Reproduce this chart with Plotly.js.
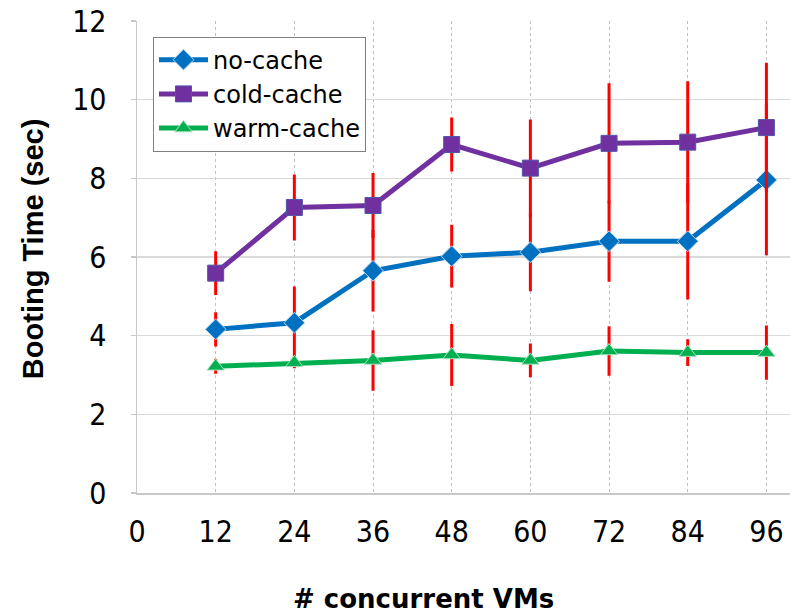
<!DOCTYPE html>
<html>
<head>
<meta charset="utf-8">
<script src="https://cdn.plot.ly/plotly-3.0.1.min.js"></script>
<style>
html,body{margin:0;padding:0;background:#fff;}
#chart{width:790px;height:614px;}
</style>
</head>
<body>
<div id="chart"></div>
<script>
// ---- data ----
var vms = [12, 24, 36, 48, 60, 72, 84, 96];
var xTicks = [0, 12, 24, 36, 48, 60, 72, 84, 96];
var yTicks = [0, 2, 4, 6, 8, 10, 12];

var noCache      = [4.16, 4.33, 5.65, 6.02, 6.12, 6.40, 6.40, 7.96];
var noCacheErr   = [0.40, 0.88, 1.00, 0.76, 0.95, 0.99, 1.44, 1.88];

var coldCache    = [5.59, 7.26, 7.31, 8.86, 8.26, 8.89, 8.92, 9.29];
var coldCacheErr = [0.52, 0.80, 0.79, 0.65, 1.20, 1.49, 1.51, 1.61];

var warmCache    = [3.22, 3.31, 3.37, 3.51, 3.37, 3.61, 3.57, 3.57];
var warmCacheErr = [0.15, 0.10, 0.73, 0.75, 0.39, 0.59, 0.30, 0.65];

var seriesNames = ['no-cache', 'cold-cache', 'warm-cache'];
var xTitle = '# concurrent VMs';
var yTitle = 'Booting Time (sec)';

function errBar(arr) {
  return {type: 'data', array: arr, visible: true, color: '#ff0000', thickness: 3, width: 1.5};
}

var traces = [
  {
    x: vms, y: noCache, name: seriesNames[0], type: 'scatter', mode: 'lines+markers',
    line: {color: '#0070C0', width: 5},
    marker: {symbol: 'diamond', size: 16, color: '#0070C0', line: {color: '#bdd7ee', width: 1}},
    error_y: errBar(noCacheErr)
  },
  {
    x: vms, y: coldCache, name: seriesNames[1], type: 'scatter', mode: 'lines+markers',
    line: {color: '#7030A0', width: 5},
    marker: {symbol: 'square', size: 16, color: '#7030A0', line: {color: '#4f55a8', width: 1}},
    error_y: errBar(coldCacheErr)
  },
  {
    x: vms, y: warmCache, name: seriesNames[2], type: 'scatter', mode: 'lines+markers',
    line: {color: '#00B050', width: 5},
    marker: {symbol: 'triangle-up', size: 15, color: '#00B050', line: {color: '#a9e0bd', width: 1}},
    error_y: errBar(warmCacheErr)
  }
];

var tickFont = {family: '"Liberation Sans Narrow", "DejaVu Sans Condensed", "Arial Narrow", sans-serif', size: 30, color: '#000'};

var layout = {
  width: 790, height: 614,
  margin: {l: 137, r: 0, t: 20.5, b: 120.5, pad: 0},
  paper_bgcolor: '#ffffff',
  plot_bgcolor: '#ffffff',
  font: {family: '"DejaVu Sans", sans-serif', color: '#000'},
  showlegend: true,
  legend: {
    x: 0.0245, y: 0.967, xanchor: 'left', yanchor: 'top',
    bgcolor: '#ffffff', bordercolor: '#808080', borderwidth: 1,
    font: {family: '"DejaVu Sans", sans-serif', size: 24, color: '#000'},
    itemwidth: 49, tracegroupgap: 0,
    entrywidth: 228, entrywidthmode: 'pixels'
  },
  xaxis: {
    range: [0, 99.6],
    tickmode: 'array', tickvals: xTicks, ticktext: xTicks.map(String),
    tickfont: tickFont,
    showgrid: true, gridcolor: '#bfbfbf', gridwidth: 1, griddash: 'dot',
    showline: true, linecolor: '#c8c8c8', linewidth: 1.5,
    zeroline: false, ticks: '', ticklabelstandoff: 11,
    fixedrange: true
  },
  yaxis: {
    range: [0, 12],
    tickmode: 'array', tickvals: yTicks, ticktext: yTicks.map(String),
    tickfont: tickFont,
    showgrid: true, gridcolor: '#d9d9d9', gridwidth: 1.5,
    showline: true, linecolor: '#c8c8c8', linewidth: 1.5,
    zeroline: false, ticks: 'outside', ticklen: 5, tickcolor: '#c8c8c8', tickwidth: 1.5,
    ticklabelstandoff: 18,
    fixedrange: true
  },
  annotations: [
    {
      text: '<b>' + xTitle + '</b>', xref: 'paper', yref: 'paper',
      x: 0.4387, y: -0.225, xanchor: 'center', yanchor: 'middle', showarrow: false,
      font: {family: '"DejaVu Sans", sans-serif', size: 26, color: '#000'}
    },
    {
      text: '<b>' + yTitle + '</b>', xref: 'paper', yref: 'paper',
      x: -0.159, y: 0.517, xanchor: 'center', yanchor: 'middle', showarrow: false, textangle: -90,
      font: {family: '"Liberation Sans", Arial, sans-serif', size: 29, color: '#000'}
    }
  ]
};

Plotly.newPlot('chart', traces, layout, {displayModeBar: false, staticPlot: true});
</script>
</body>
</html>
